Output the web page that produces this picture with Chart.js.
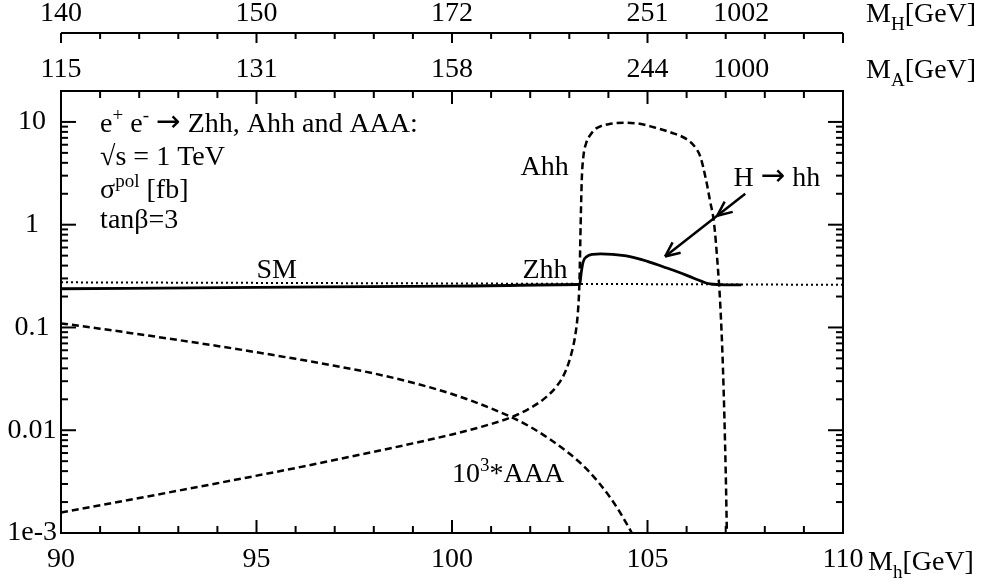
<!DOCTYPE html>
<html>
<head>
<meta charset="utf-8">
<script src="https://cdn.jsdelivr.net/npm/chart.js@4"></script>
<style>
  body { margin: 0; background: #fff; }
  #chart { display: block; }
</style>
</head>
<body>
<canvas id="chart" width="985" height="584"></canvas>
<script>
const FONT = '"Liberation Serif", "Times New Roman", serif';
const SYM = '"DejaVu Sans", sans-serif';
Chart.defaults.font.family = FONT;
Chart.defaults.color = "#000";

// SM Zhh (dotted)
let smMass = [90, 100, 110];
let smSigma = [0.275, 0.268, 0.26];

// MSSM Zhh (solid), resonant H -> hh bump
let zhhMass = [90, 95, 100, 103.2, 103.27, 103.3, 103.35, 103.45, 103.6, 103.8, 104.1, 104.55, 105.0, 105.4, 105.8, 106.2, 106.6, 107.0, 107.4];
let zhhSigma = [0.238, 0.245, 0.253, 0.262, 0.266, 0.33, 0.43, 0.49, 0.515, 0.52, 0.515, 0.49, 0.44, 0.39, 0.345, 0.30, 0.265, 0.26, 0.26];

// Ahh (dashed)
let ahhMass = [90, 92, 94, 96, 98, 99, 100, 101, 101.5, 102, 102.4, 102.7, 102.9, 103.05, 103.15, 103.22, 103.26, 103.29, 103.32, 103.36, 103.43, 103.55, 103.7, 104.0, 104.4, 104.8, 105.1, 105.6, 106.0, 106.2, 106.35, 106.5, 106.6, 106.7, 106.8, 106.86, 106.93, 107.0, 107.03];
let ahhSigma = [0.00158, 0.00219, 0.00305, 0.00429, 0.00617, 0.00745, 0.0091, 0.0115, 0.0133, 0.0164, 0.0209, 0.0275, 0.0372, 0.055, 0.083, 0.141, 0.28, 1.0, 2.8, 4.6, 6.2, 7.6, 8.7, 9.5, 9.8, 9.6, 9.0, 7.9, 6.8, 5.8, 4.6, 2.7, 1.7, 1.05, 0.38, 0.17, 0.04, 0.004, 0.001];

// 10^3 * AAA (dashed)
let aaaMass = [90, 91, 92, 93, 94, 95, 96, 97, 98, 99, 100, 101, 102, 103, 103.5, 104, 104.3, 104.6];
let aaaSigma = [0.1096, 0.0973, 0.0859, 0.0755, 0.0661, 0.0574, 0.0495, 0.0424, 0.0357, 0.029, 0.0225, 0.0163, 0.0108, 0.00593, 0.00398, 0.00234, 0.00158, 0.001];

// axes
let topTickPos = [90, 95, 100, 105, 107.4];
let mALabels = ["115", "131", "158", "244", "1000"];
let mHLabels = ["140", "150", "172", "251", "1002"];
let yTicks = [0.001, 0.01, 0.1, 1, 10];
let yLabels = ["1e-3", "0.01", "0.1", "1", "10"];

// text inside the frame: [x, y] in data units, baseline-left
let notes = [
    { at: [91.0, 8.0], parts: [["e"], ["+", "sup"], [" e"], ["-", "sup"], [" "], ["\u2192", "sym"], [" Zhh, Ahh and AAA:"]] },
    { at: [91.0, 3.83], parts: [["\u221As = 1 TeV"]] },
    { at: [91.0, 1.83], parts: [["\u03C3"], ["pol", "sup"], [" [fb]"]] },
    { at: [91.0, 0.935], parts: [["tan\u03B2=3"]] },
    { at: [95.0, 0.306], parts: [["SM"]] },
    { at: [101.8, 0.306], parts: [["Zhh"]] },
    { at: [101.75, 3.06], parts: [["Ahh"]] },
    { at: [107.2, 2.39], parts: [["H "], ["\u2192", "sym"], [" hh"]] },
    { at: [100.0, 0.00313], parts: [["10"], ["3", "sup"], ["*AAA"]] }
];
let arrowFrom = [107.5, 2.0];
let arrowTo = [105.45, 0.49];

function pts(xs, ys) {
    return xs.map((x, i) => ({ x: x, y: ys[i] }));
}

function line(ctx, x1, y1, x2, y2) {
    ctx.beginPath();
    ctx.moveTo(x1, y1);
    ctx.lineTo(x2, y2);
    ctx.stroke();
}

function rich(ctx, x, y, parts, size) {
    for (let p of parts) {
        let kind = p[1];
        let dy = 0;
        if (kind === "sym") {
            ctx.font = (size * 1.05) + "px " + SYM;
            dy = -size * 0.02;
        } else if (kind) {
            ctx.font = (size * 0.68) + "px " + FONT;
            dy = kind === "sup" ? -size * 0.4 : size * 0.28;
        } else {
            ctx.font = size + "px " + FONT;
        }
        ctx.fillText(p[0], x, y + dy);
        x += ctx.measureText(p[0]).width;
    }
}

function head(ctx, tx, ty, ang) {
    let len = 16, spread = 0.42;
    line(ctx, tx, ty, tx + len * Math.cos(ang + spread), ty + len * Math.sin(ang + spread));
    line(ctx, tx, ty, tx + len * Math.cos(ang - spread), ty + len * Math.sin(ang - spread));
}

const frame = {
    id: "frame",
    afterDatasetsDraw(chart) {
        let ctx = chart.ctx;
        let a = chart.chartArea;
        let x = chart.scales.x, y = chart.scales.y, xH = chart.scales.xH;
        ctx.save();
        ctx.strokeStyle = "#000";
        ctx.fillStyle = "#000";
        ctx.lineWidth = 2;
        ctx.lineCap = "butt";
        ctx.strokeRect(a.left, a.top, a.right - a.left, a.bottom - a.top);
        line(ctx, a.left, xH.bottom, a.right, xH.bottom);

        for (let m = 90; m <= 110; m++) {
            let px = x.getPixelForValue(m);
            let major = m % 5 === 0;
            line(ctx, px, a.bottom, px, a.bottom - (major ? 13 : 7));
            line(ctx, px, a.top, px, a.top + (major ? 13 : 7));
            line(ctx, px, xH.bottom, px, xH.bottom + (major ? 10 : 6));
        }
        for (let e = -3; e <= 1; e++) {
            for (let k = 1; k <= 9; k++) {
                let v = k * Math.pow(10, e);
                if (v > y.max) break;
                let py = y.getPixelForValue(v);
                let len = k === 1 ? 15 : 7;
                line(ctx, a.left, py, a.left + len, py);
                line(ctx, a.right, py, a.right - len, py);
            }
        }

        // axis names
        ctx.textBaseline = "alphabetic";
        ctx.textAlign = "left";
        rich(ctx, a.right + 25, 570, [["M"], ["h", "sub"], ["[GeV]"]], 28);
        rich(ctx, a.right + 23, 78, [["M"], ["A", "sub"], ["[GeV]"]], 28);
        rich(ctx, a.right + 23, 22, [["M"], ["H", "sub"], ["[GeV]"]], 28);

        for (let n of notes) {
            rich(ctx, x.getPixelForValue(n.at[0]), y.getPixelForValue(n.at[1]), n.parts, 28);
        }

        // H -> hh arrow
        let x1 = x.getPixelForValue(arrowFrom[0]), y1 = y.getPixelForValue(arrowFrom[1]);
        let x2 = x.getPixelForValue(arrowTo[0]), y2 = y.getPixelForValue(arrowTo[1]);
        ctx.lineWidth = 2.5;
        line(ctx, x1, y1, x2, y2);
        let back = Math.atan2(y1 - y2, x1 - x2);
        head(ctx, x2, y2, back);
        head(ctx, x1 + (x2 - x1) * 0.35, y1 + (y2 - y1) * 0.35, back);
        ctx.restore();
    }
};

function curve(data, dash, width) {
    return {
        data: data,
        xAxisID: "x",
        yAxisID: "y",
        borderColor: "#000",
        borderWidth: width,
        borderDash: dash,
        pointRadius: 0,
        fill: false,
        cubicInterpolationMode: "monotone"
    };
}

let tickFont = { size: 28, family: FONT };

new Chart(document.getElementById("chart"), {
    type: "line",
    data: {
        datasets: [
            curve(pts(smMass, smSigma), [2, 3], 2),
            curve(pts(ahhMass, ahhSigma), [7, 4], 2.5),
            curve(pts(aaaMass, aaaSigma), [7, 4], 2.5),
            curve(pts(zhhMass, zhhSigma), [], 2.8)
        ]
    },
    options: {
        responsive: false,
        animation: false,
        devicePixelRatio: 1,
        layout: { padding: { left: 0, right: 142, top: 0, bottom: 0 } },
        plugins: { legend: { display: false }, tooltip: { enabled: false } },
        scales: {
            x: {
                type: "linear", position: "bottom", min: 90, max: 110,
                grid: { display: false, drawTicks: false }, border: { display: false },
                ticks: { stepSize: 5, font: tickFont, padding: 10, maxRotation: 0, autoSkip: false },
                afterFit: s => { s.height = 51; }
            },
            y: {
                type: "logarithmic", position: "left", min: 0.001, max: 20,
                grid: { display: false, drawTicks: false }, border: { display: false },
                afterBuildTicks: s => { s.ticks = yTicks.map(v => ({ value: v })); },
                ticks: { font: tickFont, padding: 4, crossAlign: "center", autoSkip: false, callback: (v, i) => yLabels[i] },
                afterFit: s => { s.width = 61; }
            },
            xA: {
                type: "linear", position: "top", min: 90, max: 110, weight: 0,
                grid: { display: false, drawTicks: false }, border: { display: false },
                afterBuildTicks: s => { s.ticks = topTickPos.map(v => ({ value: v })); },
                ticks: { font: tickFont, padding: 5, maxRotation: 0, autoSkip: false, callback: (v, i) => mALabels[i] },
                afterFit: s => { s.height = 58; }
            },
            xH: {
                type: "linear", position: "top", min: 90, max: 110, weight: 1,
                grid: { display: false, drawTicks: false }, border: { display: false },
                afterBuildTicks: s => { s.ticks = topTickPos.map(v => ({ value: v })); },
                ticks: { font: tickFont, padding: 3, maxRotation: 0, autoSkip: false, callback: (v, i) => mHLabels[i] },
                afterFit: s => { s.height = 33; }
            }
        }
    },
    plugins: [frame]
});
</script>
</body>
</html>
